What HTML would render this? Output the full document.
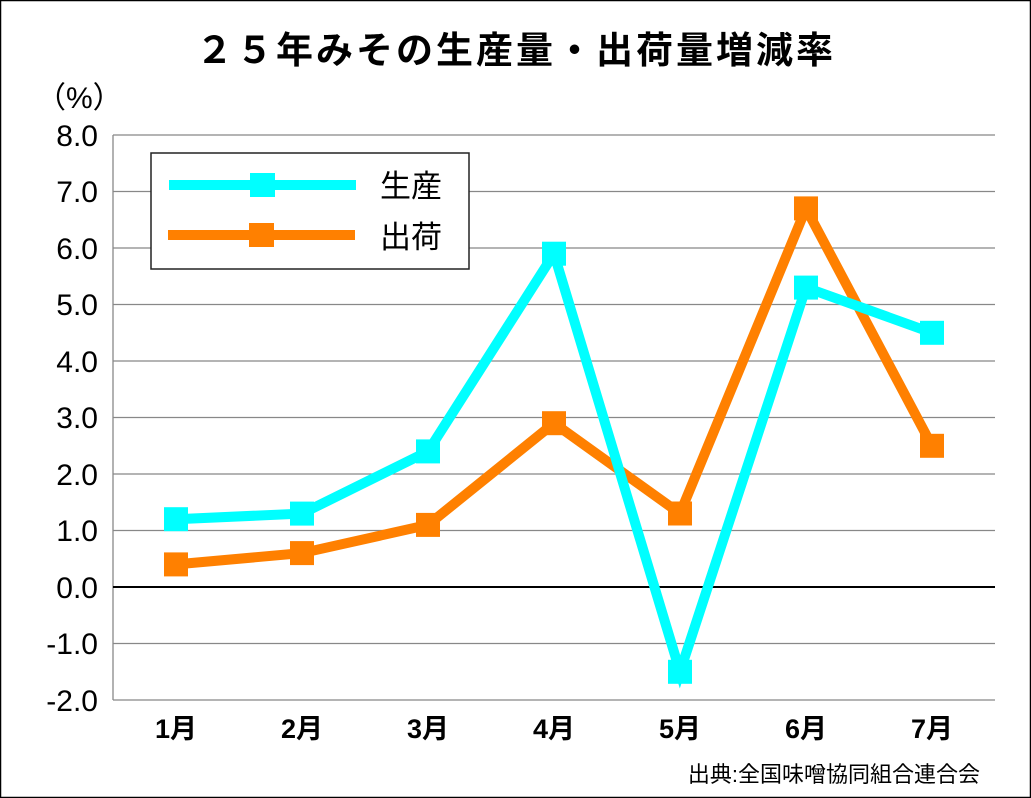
<!DOCTYPE html>
<html><head><meta charset="utf-8"><style>
html,body{margin:0;padding:0;background:#fff}
svg{display:block}
text{font-family:"Liberation Sans","Noto Sans CJK JP",sans-serif;fill:#000}
</style></head><body>
<svg width="1031" height="798" viewBox="0 0 1031 798" xmlns="http://www.w3.org/2000/svg">
<rect x="0.5" y="0.5" width="1030" height="797" fill="#fff" stroke="#000" stroke-width="1.5"/>
<text x="516" y="63" font-size="37" text-anchor="middle" font-weight="bold" letter-spacing="3">２５年みその生産量・出荷量増減率</text>
<text x="36" y="108" font-size="30" font-family="'Noto Sans CJK JP',sans-serif">（%）</text>
<g stroke="#888" stroke-width="1.3">
<line x1="113" y1="135" x2="995" y2="135"/>
<line x1="113" y1="191.5" x2="995" y2="191.5"/>
<line x1="113" y1="248" x2="995" y2="248"/>
<line x1="113" y1="304.5" x2="995" y2="304.5"/>
<line x1="113" y1="361" x2="995" y2="361"/>
<line x1="113" y1="417.5" x2="995" y2="417.5"/>
<line x1="113" y1="474" x2="995" y2="474"/>
<line x1="113" y1="530.5" x2="995" y2="530.5"/>
<line x1="113" y1="643.5" x2="995" y2="643.5"/>
<line x1="113" y1="700" x2="995" y2="700"/>
<line x1="113" y1="135" x2="113" y2="700"/>
</g>
<line x1="113" y1="587" x2="995" y2="587" stroke="#000" stroke-width="2"/>
<g font-size="30" text-anchor="end">
<text x="98" y="146">8.0</text><text x="98" y="202">7.0</text><text x="98" y="259">6.0</text>
<text x="98" y="315">5.0</text><text x="98" y="372">4.0</text><text x="98" y="428">3.0</text>
<text x="98" y="485">2.0</text><text x="98" y="541">1.0</text><text x="98" y="598">0.0</text>
<text x="98" y="654">-1.0</text><text x="98" y="711">-2.0</text>
</g>
<g font-size="27" text-anchor="middle" font-weight="bold">
<text x="176" y="738">1月</text><text x="302" y="738">2月</text><text x="428" y="738">3月</text>
<text x="554" y="738">4月</text><text x="680" y="738">5月</text><text x="806" y="738">6月</text><text x="932" y="738">7月</text>
</g>
<text x="980" y="782" font-size="22" text-anchor="end" font-family="'Noto Serif CJK SC',serif">出典:全国味噌協同組合連合会</text>
<polyline fill="none" stroke="#FF8000" stroke-width="10" stroke-linejoin="miter"
 points="176,564.4 302,553.1 428,524.9 554,423.2 680,513.5 806,208.4 932,445.8"/>
<g fill="#FF8000">
<rect x="164" y="552.4" width="24" height="24"/><rect x="290" y="541.1" width="24" height="24"/>
<rect x="416" y="512.9" width="24" height="24"/><rect x="542" y="411.2" width="24" height="24"/>
<rect x="668" y="501.5" width="24" height="24"/><rect x="794" y="196.4" width="24" height="24"/>
<rect x="920" y="433.8" width="24" height="24"/>
</g>
<polyline fill="none" stroke="#00FFFF" stroke-width="10" stroke-linejoin="miter"
 points="176,519.2 302,513.6 428,451.4 554,253.7 680,671.8 806,287.6 932,332.8"/>
<g fill="#00FFFF">
<rect x="164" y="507.2" width="24" height="24"/><rect x="290" y="501.6" width="24" height="24"/>
<rect x="416" y="439.4" width="24" height="24"/><rect x="542" y="241.7" width="24" height="24"/>
<rect x="668" y="659.8" width="24" height="24"/><rect x="794" y="275.6" width="24" height="24"/>
<rect x="920" y="320.8" width="24" height="24"/>
</g>
<rect x="151" y="153" width="318" height="116" fill="#fff" stroke="#222" stroke-width="1.5"/>
<line x1="169" y1="185" x2="356" y2="185" stroke="#00FFFF" stroke-width="10"/>
<rect x="250" y="173" width="25" height="24" fill="#00FFFF"/>
<line x1="168" y1="235" x2="355" y2="235" stroke="#FF8000" stroke-width="10"/>
<rect x="249" y="223" width="25" height="24" fill="#FF8000"/>
<text x="380" y="197" font-size="31">生産</text>
<text x="380" y="248" font-size="31">出荷</text>
</svg>
</body></html>
